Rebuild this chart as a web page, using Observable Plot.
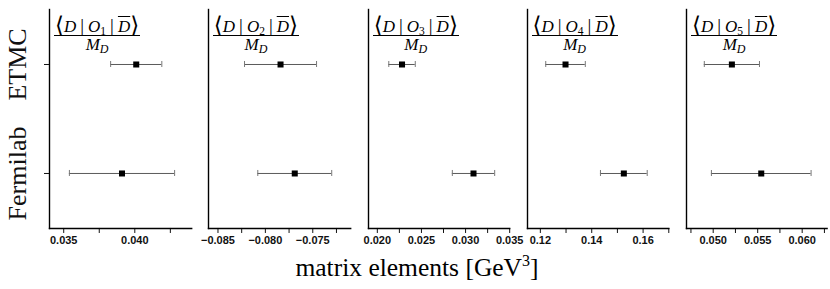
<!DOCTYPE html>
<html>
<head>
<meta charset="utf-8">
<script src="https://cdn.jsdelivr.net/npm/d3@7"></script>
<script src="https://cdn.jsdelivr.net/npm/@observablehq/plot@0.6"></script>
<style>
  body { margin: 0; background: #fff; }
  #chart { position: relative; width: 830px; height: 289px; overflow: hidden; background: #fff; }
  .panel { position: absolute; top: 0; }
  .ftitle { position: absolute; top: 14px; font-family: "Liberation Serif", "DejaVu Serif", serif; color: #000; text-align: center; white-space: nowrap; }
  .num { font-size: 17px; line-height: 21px; height: 21px; border-bottom: 1.2px solid #000; padding: 0 1px; }
  .num i, .den i { font-style: italic; }
  .num .ang { font-size: 23px; font-family: "DejaVu Serif", serif; font-weight: 200; position: relative; top: 1px; }
  .num .mid { margin: 0 4px; font-size: 19px; }
  .num .op { font-family: "Liberation Serif", serif; font-style: italic; }
  .num sub { font-size: 11.5px; vertical-align: baseline; position: relative; top: 3px; }
  .num .ov { text-decoration: overline; text-decoration-thickness: 1px; }
  .den { font-size: 17px; line-height: 17px; }
  .den sub { font-size: 12px; vertical-align: baseline; position: relative; top: 3px; }
  #xtitle { position: absolute; left: 217px; width: 400px; top: 255px; text-align: center; font-family: "Liberation Serif", serif; font-size: 25.5px; line-height: 25px; color: #000; white-space: nowrap; }
  #xtitle sup { font-size: 16px; vertical-align: baseline; position: relative; top: -10px; }
</style>
</head>
<body>
<div id="chart"></div>
<script>
// ---- data ----
const sources = ["ETMC", "Fermilab"];
const operatorIndices = ["1", "2", "3", "4", "5"];
const etmcValues = [0.0401, -0.0784, 0.0228, 0.1298, 0.0521];
const etmcErrors = [0.0018, 0.0038, 0.0015, 0.0077, 0.0031];
const fermilabValues = [0.0391, -0.0769, 0.0309, 0.1525, 0.0554];
const fermilabErrors = [0.0037, 0.0039, 0.0024, 0.0091, 0.0056];
const xDomains = [[0.034, 0.044], [-0.086, -0.071], [0.019, 0.035], [0.115, 0.17], [0.047, 0.0628]];
const labelledTicks = [
  [0.035, 0.040],
  [-0.085, -0.080, -0.075],
  [0.020, 0.025, 0.030, 0.035],
  [0.12, 0.14, 0.16],
  [0.050, 0.055, 0.060]
];
const unlabelledTicks = [
  [0.0375, 0.0425],
  [-0.0825, -0.0775, -0.0725],
  [0.0225, 0.0275, 0.0325],
  [0.13, 0.15, 0.17],
  [0.0475, 0.0525, 0.0575, 0.0625]
];
const tickDecimals = [3, 3, 3, 2, 3];
const xTitle = "matrix elements [GeV";

// ---- layout (screen px) ----
const axisLeft = [49, 207.8, 367.7, 526.5, 686];
const axisRight = [191.2, 350, 508.9, 667.8, 826.6];
const W = 830, H = 260, mTop = 9, mBottom = 32;

const chart = document.getElementById("chart");

operatorIndices.forEach((k, i) => {
  const rows = sources.map((s, j) => ({
    source: s,
    value: j === 0 ? etmcValues[i] : fermilabValues[i],
    error: j === 0 ? etmcErrors[i] : fermilabErrors[i]
  }));
  const mL = i === 0 ? 49 : 22;
  const mR = i === 4 ? W - axisRight[4] : 12;
  const width = mL + (axisRight[i] - axisLeft[i]) + mR;
  const labelled = labelledTicks[i];
  const fmt = d3.format("." + tickDecimals[i] + "f");
  const marks = [
    Plot.ruleY(rows, {y: "source", x1: d => d.value - d.error, x2: d => d.value + d.error, stroke: "#5a5a5a", strokeWidth: 1}),
    Plot.ruleX(rows, {x: d => d.value - d.error, y1: "source", y2: "source", stroke: "#777", strokeWidth: 1, insetTop: -3, insetBottom: -3}),
    Plot.ruleX(rows, {x: d => d.value + d.error, y1: "source", y2: "source", stroke: "#777", strokeWidth: 1, insetTop: -3, insetBottom: -3}),
    Plot.dot(rows, {x: "value", y: "source", symbol: "square", r: 3.4, fill: "#000", stroke: null}),
    Plot.axisX({
      ticks: labelled.concat(unlabelledTicks[i]),
      tickFormat: d => labelled.includes(d) ? fmt(d) : "",
      tickSize: 5, tickPadding: 3, label: null,
      fontSize: 11, fontWeight: "bold", fontFamily: "Liberation Sans, Arial, sans-serif",
      fill: "#111", stroke: "#111"
    }),
    Plot.frame({anchor: "left", stroke: "#000", strokeWidth: 1.4}),
    Plot.frame({anchor: "bottom", stroke: "#000", strokeWidth: 1.4})
  ];
  if (i === 0) {
    marks.push(Plot.axisY({tickSize: 5, tickFormat: () => "", label: null, stroke: "#111"}));
    marks.push(Plot.text(sources, {
      y: d => d, frameAnchor: "left", dx: -31.5, rotate: -90,
      text: d => d, fontSize: 26, fontFamily: "Liberation Serif, serif",
      fill: "#111", lineAnchor: "middle", textAnchor: "middle"
    }));
  }
  const svg = Plot.plot({
    width, height: H,
    marginLeft: mL, marginRight: mR, marginTop: mTop, marginBottom: mBottom,
    style: {background: "transparent", overflow: "visible"},
    x: {domain: xDomains[i], label: null},
    y: Object.assign({domain: sources, type: "point", padding: 0.5, label: null}, i === 0 ? {} : {axis: null}),
    marks
  });
  svg.classList.add("panel");
  svg.style.left = (axisLeft[i] - mL) + "px";
  svg.style.position = "absolute";
  svg.style.top = "0px";
  chart.appendChild(svg);

  const t = document.createElement("div");
  t.className = "ftitle";
  t.style.left = (axisLeft[i] + 5) + "px";
  t.innerHTML =
    `<div class="num"><span class="ang">⟨</span><i>D</i><span class="mid">|</span><span class="op">O</span><sub>${k}</sub><span class="mid">|</span><i class="ov">D</i><span class="ang">⟩</span></div>` +
    `<div class="den"><i>M</i><sub><i>D</i></sub></div>`;
  chart.appendChild(t);
});

const xt = document.createElement("div");
xt.id = "xtitle";
xt.innerHTML = xTitle + "<sup>3</sup>]";
chart.appendChild(xt);
</script>
</body>
</html>
